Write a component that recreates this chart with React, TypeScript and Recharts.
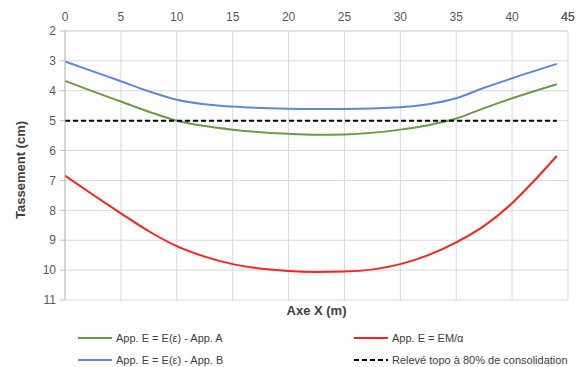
import { CartesianGrid, Label, Legend, Line, LineChart, XAxis, YAxis } from "recharts";

// positions along the embankment axis (m)
const xPos = [0, 2.5, 5, 7.5, 10, 12.5, 15, 20, 22.5, 25, 30, 32.5, 35, 37.5, 40, 42, 44];

// settlement (cm) per approach
const appA = [3.67, 4.02, 4.36, 4.7, 5.0, 5.18, 5.3, 5.44, 5.47, 5.46, 5.3, 5.15, 4.93, 4.58, 4.25, null, 3.78];
const appB = [3.02, 3.35, 3.68, 4.02, 4.3, 4.45, 4.53, 4.6, 4.61, 4.61, 4.55, 4.45, 4.25, 3.9, 3.58, null, 3.1];
const appEM = [6.84, 7.48, 8.1, 8.7, 9.2, 9.55, 9.8, 10.03, 10.06, 10.05, 9.8, 9.5, 9.07, 8.52, 7.76, 7.0, 6.18];
// topo survey at 80% consolidation, only measured at both ends
const topo = [5, null, null, null, null, null, null, null, null, null, null, null, null, null, null, null, 5];

const xTicks = [0, 5, 10, 15, 20, 25, 30, 35, 40, 45];
const yTicks = [2, 3, 4, 5, 6, 7, 8, 9, 10, 11];

const data = xPos.map((x, i) => ({ x, a: appA[i], b: appB[i], em: appEM[i], topo: topo[i] }));

const GREEN = "#6b9b41";
const BLUE = "#5b88d8";
const RED = "#ff2020";
const FONT = "'Liberation Sans', Arial, sans-serif";

const legendItems = [
  { label: "App. E = E(ε) - App. A", color: GREEN, dash: false },
  { label: "App. E = EM/α", color: RED, dash: false },
  { label: "App. E = E(ε) - App. B", color: BLUE, dash: false },
  { label: "Relevé topo à 80% de consolidation", color: "#000000", dash: true },
];

function YTitle() {
  return (
    <text
      x={20}
      y={170}
      transform="rotate(-90, 20, 170)"
      textAnchor="middle"
      dominantBaseline="central"
      fontFamily={FONT}
      fontSize={13}
      fontWeight="bold"
      fill="#404040"
    >
      Tassement (cm)
    </text>
  );
}

// the axis drops its last tick label at the right edge, so draw it here
function EndTick(props: any) {
  const vb = props.viewBox;
  if (!vb) return null;
  return (
    <text x={vb.x + vb.width} y={vb.y + vb.height - 10} textAnchor="middle" fontFamily={FONT} fontSize={12} fill="#595959">
      {xTicks[xTicks.length - 1]}
    </text>
  );
}

function ChartLegend() {
  return (
    <div
      style={{
        display: "grid",
        gridTemplateColumns: "276px 229px",
        paddingLeft: 78,
        fontFamily: FONT,
        fontSize: 11,
        color: "#404040",
      }}
    >
      {legendItems.map((it) => (
        <div key={it.label} style={{ display: "flex", alignItems: "center", height: 22 }}>
          <svg width={34} height={10} style={{ marginRight: 4 }}>
            <line
              x1={0}
              y1={5}
              x2={34}
              y2={5}
              stroke={it.color}
              strokeWidth={2}
              strokeDasharray={it.dash ? "5 3" : undefined}
            />
          </svg>
          <span>{it.label}</span>
        </div>
      ))}
    </div>
  );
}

export default function App() {
  const tick = { fill: "#595959", fontSize: 12, fontFamily: FONT };
  return (
    <div
      style={{
        position: "absolute",
        left: 0,
        top: 0,
        width: 583,
        height: 367,
        overflow: "hidden",
        background: "#fff",
      }}
    >
      <LineChart width={583} height={367} data={data} margin={{ top: 11, right: 15, left: 0, bottom: 37 }}>
        <CartesianGrid stroke="#d9d9d9" xAxisId="top" />
        <XAxis
          xAxisId="top"
          orientation="top"
          dataKey="x"
          type="number"
          domain={[0, 45]}
          ticks={xTicks}
          height={20}
          tick={tick}
          tickLine={false}
          tickMargin={4}
          axisLine={{ stroke: "#d9d9d9" }}
          interval={0}
        >
          <Label content={<EndTick />} />
        </XAxis>
        <XAxis
          xAxisId="bottom"
          orientation="bottom"
          dataKey="x"
          type="number"
          domain={[0, 45]}
          height={30}
          tick={false}
          tickLine={false}
          axisLine={false}
        >
          <Label
            value="Axe X (m)"
            position="insideTop"
            offset={6}
            style={{ fontFamily: FONT, fontSize: 13, fontWeight: "bold", fill: "#404040" }}
          />
        </XAxis>
        <YAxis
          reversed
          type="number"
          domain={[2, 11]}
          ticks={yTicks}
          width={65}
          tick={tick}
          tickSize={5}
          tickMargin={4}
          tickLine={{ stroke: "#bfbfbf" }}
          axisLine={{ stroke: "#bfbfbf" }}
          interval={0}
          label={<YTitle />}
        />
        <Legend
          verticalAlign="middle"
          layout="horizontal"
          wrapperStyle={{ top: 327, left: 0, width: 583 }}
          content={() => <ChartLegend />}
        />
        <Line xAxisId="top" type="monotone" dataKey="a" stroke={GREEN} strokeWidth={2} dot={false} connectNulls isAnimationActive={false} />
        <Line xAxisId="top" type="monotone" dataKey="b" stroke={BLUE} strokeWidth={2} dot={false} connectNulls isAnimationActive={false} />
        <Line xAxisId="top" type="monotone" dataKey="em" stroke={RED} strokeWidth={2} dot={false} isAnimationActive={false} />
        <Line
          xAxisId="top"
          type="linear"
          dataKey="topo"
          stroke="#000"
          strokeWidth={2}
          strokeDasharray="5 3"
          dot={false}
          connectNulls
          isAnimationActive={false}
        />
      </LineChart>
    </div>
  );
}
